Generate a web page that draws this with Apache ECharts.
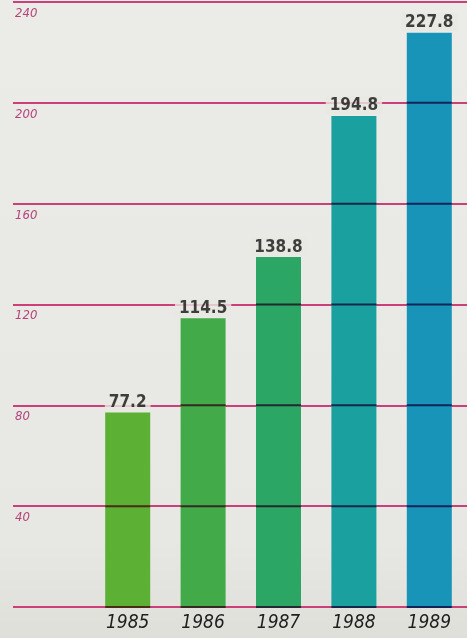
<!DOCTYPE html>
<html>
<head>
<meta charset="utf-8">
<script src="https://cdn.jsdelivr.net/npm/echarts@6/dist/echarts.min.js"></script>
<style>
  html, body { margin: 0; padding: 0; background: #e8e9e4; }
  #chart { width: 467px; height: 638px; }
</style>
</head>
<body>
<div id="chart"></div>
<script>
// Yearly totals
const years = ['1985', '1986', '1987', '1988', '1989'];
const values = [77.2, 114.5, 138.8, 194.8, 227.8];
const yTicks = [0, 40, 80, 120, 160, 200, 240];

// Green-to-teal palette, one shade per year
const barColors = ['#5cb034', '#42aa48', '#2ca664', '#1aa09e', '#1894b8'];
const ruleColor = '#cc3f78';
const bgColor = '#e8e9e4';
const narrow = "'DejaVu Sans Condensed', 'Liberation Sans Narrow', sans-serif";
const barWidth = 45;

// Where a rule crosses a bar it reads as the two inks printed on top of each other
function multiply(a, b) {
  const pa = [1, 3, 5].map(i => parseInt(a.substr(i, 2), 16));
  const pb = [1, 3, 5].map(i => parseInt(b.substr(i, 2), 16));
  return 'rgb(' + pa.map((c, i) => Math.round(c * pb[i] / 255)).join(',') + ')';
}
const overColors = barColors.map(c => multiply(c, ruleColor));

const chart = echarts.init(document.getElementById('chart'));
chart.setOption({
  backgroundColor: {
    type: 'linear', x: 0, y: 0, x2: 0, y2: 1,
    colorStops: [
      { offset: 0, color: '#ebece7' },
      { offset: 0.85, color: '#e7e8e3' },
      { offset: 1, color: '#dedfd9' }
    ]
  },
  animation: false,
  grid: [
    { left: 13, right: 0, top: 2, bottom: 31 },
    { left: 90, right: 0, top: 2, bottom: 31 }
  ],
  xAxis: [
    { gridIndex: 0, type: 'value', min: 0, max: 1, show: false },
    {
      gridIndex: 1, type: 'category', data: years,
      axisLine: { show: false }, axisTick: { show: false },
      axisLabel: {
        margin: 7, color: '#1e1e1e', fontSize: 19, fontStyle: 'italic',
        fontFamily: narrow
      }
    }
  ],
  yAxis: [
    {
      gridIndex: 0, type: 'value', min: 0, max: 240, interval: 40,
      axisLine: { show: false }, axisTick: { show: false },
      splitLine: { lineStyle: { color: ruleColor, width: 2 } },
      axisLabel: {
        inside: true, margin: 2, verticalAlign: 'top', padding: [5, 0, 0, 0],
        color: '#b5447a', fontSize: 13, fontStyle: 'italic', fontFamily: narrow,
        showMinLabel: false
      }
    },
    {
      gridIndex: 1, type: 'value', min: 0, max: 240, interval: 40, show: false,
      splitLine: { show: false }
    }
  ],
  series: [
    {
      type: 'bar', xAxisIndex: 1, yAxisIndex: 1, z: 2,
      barWidth: barWidth,
      data: values.map((v, i) => ({ value: v, itemStyle: { color: barColors[i] } }))
    },
    {
      // rules redrawn across each bar
      type: 'custom', xAxisIndex: 1, yAxisIndex: 1, z: 3, silent: true,
      data: values.map((v, i) => [i, v]),
      renderItem: function (params, api) {
        const idx = api.value(0), v = api.value(1);
        const half = barWidth / 2;
        const children = [];
        yTicks.forEach(t => {
          if (t < v) {
            const p = api.coord([idx, t]);
            children.push({
              type: 'line',
              shape: { x1: p[0] - half, y1: p[1], x2: p[0] + half, y2: p[1] },
              style: { stroke: overColors[idx], lineWidth: 2 }
            });
          }
        });
        return { type: 'group', children: children };
      }
    },
    {
      // value labels, knocked out of the rules behind them
      type: 'scatter', xAxisIndex: 1, yAxisIndex: 1, z: 10, silent: true,
      symbolSize: 1, itemStyle: { color: 'transparent' },
      data: values,
      label: {
        show: true, position: 'top', distance: 1,
        color: '#111111', fontSize: 17, fontWeight: 'bold', fontFamily: narrow,
        backgroundColor: bgColor, padding: [1, 4, 0, 4],
        formatter: p => p.value.toFixed(1)
      }
    }
  ]
});
</script>
</body>
</html>
